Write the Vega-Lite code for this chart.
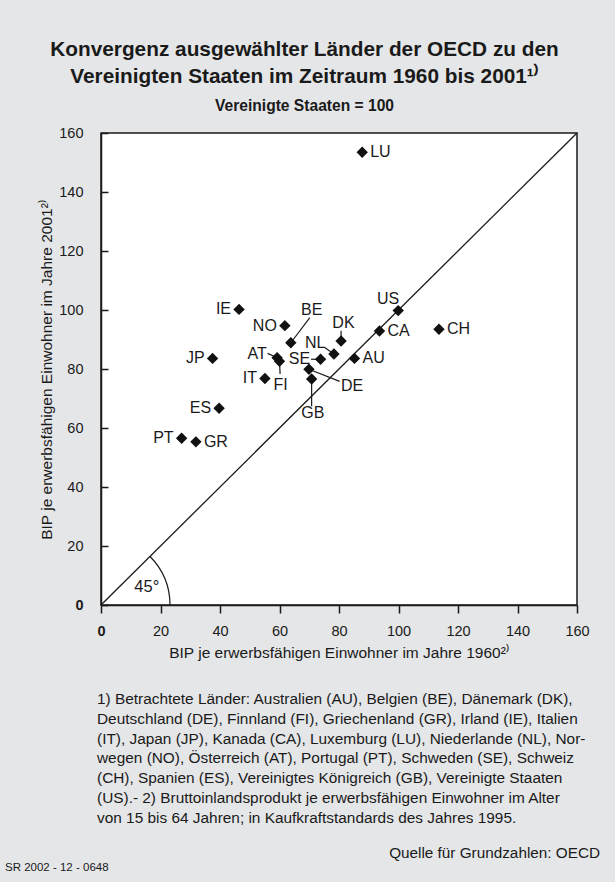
{
  "$schema": "https://vega.github.io/schema/vega-lite/v6.json",
  "background": "#e5e6e8",
  "padding": {"left": 5, "top": 38, "right": 15, "bottom": 9},
  "config": {
    "font": "Liberation Sans",
    "text": {"color": "#1a1a1a"},
    "title": {"color": "#1a1a1a"}
  },
  "title": {
    "text": ["Konvergenz ausgewählter Länder der OECD zu den", "Vereinigten Staaten im Zeitraum 1960 bis 2001¹⁾"],
    "subtitle": "Vereinigte Staaten = 100",
    "anchor": "middle",
    "dx": 2,
    "fontSize": 20.8,
    "fontWeight": "bold",
    "lineHeight": 27,
    "subtitleFontSize": 15.6,
    "subtitleFontWeight": "bold",
    "subtitleColor": "#1a1a1a",
    "subtitlePadding": 11,
    "offset": 9
  },
  "spacing": 30,
  "vconcat": [
    {
      "width": 476,
      "height": 472,
      "view": {"fill": "white", "stroke": "#1a1a1a", "strokeWidth": 1.5},
      "data": {
        "values": [
          {"code": "LU", "x60": 87.8, "y01": 153.5, "pos": "r"},
          {"code": "IE", "x60": 46.4, "y01": 100.2, "pos": "l"},
          {"code": "NO", "x60": 61.8, "y01": 94.7, "pos": "l"},
          {"code": "BE", "x60": 63.8, "y01": 88.9, "pos": "c", "lx": 70.8, "ly": 99.9, "ex": 70.2, "ey": 97.4},
          {"code": "DK", "x60": 80.7, "y01": 89.5, "pos": "c", "lx": 81.5, "ly": 95.6, "ex": 80.7, "ey": 93.0},
          {"code": "US", "x60": 99.9, "y01": 99.8, "pos": "c", "lx": 96.5, "ly": 103.8},
          {"code": "CA", "x60": 93.6, "y01": 92.9, "pos": "r"},
          {"code": "CH", "x60": 113.6, "y01": 93.5, "pos": "r"},
          {"code": "NL", "x60": 78.3, "y01": 85.1, "pos": "c", "lx": 72.0, "ly": 88.8, "ex": 75.2, "ey": 87.3},
          {"code": "AU", "x60": 85.2, "y01": 83.6, "pos": "r"},
          {"code": "SE", "x60": 73.8, "y01": 83.3, "pos": "c", "lx": 66.7, "ly": 83.3, "ex": 70.6, "ey": 83.3},
          {"code": "AT", "x60": 59.2, "y01": 83.8, "pos": "c", "lx": 52.5, "ly": 85.1, "ex": 56.0, "ey": 85.3},
          {"code": "FI", "x60": 60.0, "y01": 82.6, "pos": "c", "lx": 60.4, "ly": 74.5, "ex": 60.2, "ey": 78.3},
          {"code": "JP", "x60": 37.5, "y01": 83.6, "pos": "l"},
          {"code": "IT", "x60": 55.1, "y01": 76.8, "pos": "l"},
          {"code": "DE", "x60": 69.9, "y01": 79.9, "pos": "c", "lx": 84.4, "ly": 74.2, "ex": 80.2, "ey": 75.8},
          {"code": "GB", "x60": 70.8, "y01": 76.6, "pos": "c", "lx": 71.2, "ly": 65.0, "ex": 70.8, "ey": 67.4},
          {"code": "ES", "x60": 39.7, "y01": 66.7, "pos": "l"},
          {"code": "PT", "x60": 27.1, "y01": 56.5, "pos": "l"},
          {"code": "GR", "x60": 31.9, "y01": 55.3, "pos": "r"}
        ]
      },
      "encoding": {
        "x": {
          "field": "x60", "type": "quantitative",
          "scale": {"domain": [0, 160], "nice": false},
          "axis": {
            "values": [0, 20, 40, 60, 80, 100, 120, 140, 160],
            "title": "BIP je erwerbsfähigen Einwohner im Jahre 1960²⁾",
            "grid": false,
            "tickSize": 8, "tickWidth": 1.5, "tickColor": "#1a1a1a",
            "domainColor": "#1a1a1a", "domainWidth": 1.5,
            "labelFontSize": 14.5, "labelColor": "#1a1a1a", "labelPadding": 11,
            "labelFlush": false, "labelOverlap": false,
            "labelFontWeight": {"condition": {"test": "datum.value === 0", "value": "bold"}, "value": "normal"},
            "titleFontSize": 15.5, "titleFontWeight": "normal", "titleColor": "#1a1a1a", "titlePadding": 8
          }
        },
        "y": {
          "field": "y01", "type": "quantitative",
          "scale": {"domain": [0, 160], "nice": false},
          "axis": {
            "values": [0, 20, 40, 60, 80, 100, 120, 140, 160],
            "title": "BIP je erwerbsfähigen Einwohner im Jahre 2001²⁾",
            "grid": false,
            "tickSize": -7, "tickWidth": 1.5, "tickColor": "#1a1a1a",
            "domainColor": "#1a1a1a", "domainWidth": 1.5,
            "labelFontSize": 14.5, "labelColor": "#1a1a1a", "labelPadding": 25,
            "labelFlush": false, "labelOverlap": false,
            "labelFontWeight": {"condition": {"test": "datum.value === 0", "value": "bold"}, "value": "normal"},
            "titleFontSize": 15.5, "titleFontWeight": "normal", "titleColor": "#1a1a1a", "titlePadding": 4
          }
        }
      },
      "layer": [
        {
          "transform": [{"filter": "datum.code === 'US'"}],
          "mark": {"type": "rule", "color": "#1a1a1a", "strokeWidth": 1.3},
          "encoding": {"x": {"datum": 0}, "y": {"datum": 0}, "x2": {"datum": 160}, "y2": {"datum": 160}}
        },
        {
          "transform": [{"filter": "datum.code === 'US'"}],
          "mark": {"type": "arc", "radius": 69.6, "radius2": 68.4, "theta": 0.7854, "theta2": 1.5708, "color": "#1a1a1a"},
          "encoding": {"x": {"datum": 0}, "y": {"datum": 0}}
        },
        {
          "transform": [{"filter": "datum.code === 'US'"}],
          "mark": {"type": "text", "text": "45°", "fontSize": 16.5, "fontWeight": "normal", "color": "#1a1a1a"},
          "encoding": {"x": {"datum": 15.4}, "y": {"datum": 6.2}}
        },
        {
          "transform": [{"filter": "isValid(datum.ex)"}],
          "mark": {"type": "rule", "color": "#1a1a1a", "strokeWidth": 1.2},
          "encoding": {"x2": {"field": "ex"}, "y2": {"field": "ey"}}
        },
        {
          "mark": {"type": "point", "shape": "diamond", "filled": true, "size": 130, "color": "#111111", "opacity": 1}
        },
        {
          "transform": [{"filter": "datum.pos === 'r'"}],
          "mark": {"type": "text", "align": "left", "baseline": "middle", "dx": 8, "fontSize": 16, "color": "#1a1a1a"},
          "encoding": {"text": {"field": "code"}}
        },
        {
          "transform": [{"filter": "datum.pos === 'l'"}],
          "mark": {"type": "text", "align": "right", "baseline": "middle", "dx": -8, "fontSize": 16, "color": "#1a1a1a"},
          "encoding": {"text": {"field": "code"}}
        },
        {
          "transform": [{"filter": "datum.pos === 'c'"}],
          "mark": {"type": "text", "align": "center", "baseline": "middle", "fontSize": 16, "color": "#1a1a1a"},
          "encoding": {"x": {"field": "lx", "type": "quantitative"}, "y": {"field": "ly", "type": "quantitative"}, "text": {"field": "code"}}
        }
      ]
    },
    {
      "width": 476,
      "height": 169,
      "view": {"stroke": null, "fill": null},
      "data": {"values": [{}]},
      "layer": [
        {
          "mark": {
            "type": "text",
            "text": [
              "1) Betrachtete Länder: Australien (AU), Belgien (BE), Dänemark (DK),",
              "Deutschland (DE), Finnland (FI), Griechenland (GR), Irland (IE), Italien",
              "(IT), Japan (JP), Kanada (CA), Luxemburg (LU), Niederlande (NL), Nor-",
              "wegen (NO), Österreich (AT), Portugal (PT), Schweden (SE), Schweiz",
              "(CH), Spanien (ES), Vereinigtes Königreich (GB), Vereinigte Staaten",
              "(US).- 2) Bruttoinlandsprodukt je erwerbsfähigen Einwohner im Alter",
              "von 15 bis 64 Jahren; in Kaufkraftstandards des Jahres 1995."
            ],
            "align": "left", "baseline": "top", "fontSize": 15.4, "lineHeight": 19.8, "dx": -4, "color": "#1a1a1a"
          },
          "encoding": {"x": {"value": 0}, "y": {"value": 0}}
        },
        {
          "mark": {"type": "text", "text": "Quelle für Grundzahlen: OECD", "align": "right", "baseline": "bottom", "fontSize": 15.3, "dx": 23, "color": "#1a1a1a"},
          "encoding": {"x": {"value": "width"}, "y": {"value": "height"}}
        }
      ],
      "title": {"text": "SR 2002 - 12 - 0648", "orient": "bottom", "anchor": "start", "fontSize": 11.5, "fontWeight": "normal", "dx": -92, "offset": 1, "color": "#1a1a1a"}
    }
  ]
}
